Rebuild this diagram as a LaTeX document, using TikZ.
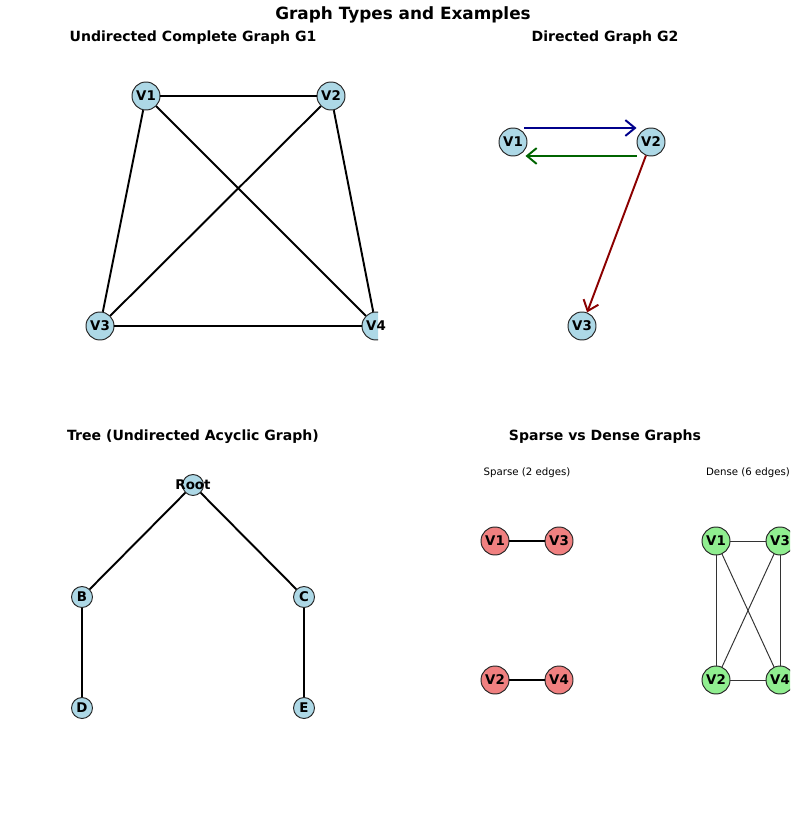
\documentclass[tikz,border=0pt]{standalone}
\usepackage{fontspec}
\setmainfont{DejaVu Sans}
\usetikzlibrary{arrows.meta}
\definecolor{lblue}{RGB}{173,216,230}
\definecolor{lcoral}{RGB}{240,128,128}
\definecolor{lgreen}{RGB}{144,238,144}
\definecolor{dblue}{RGB}{0,0,139}
\definecolor{dgreen}{RGB}{0,100,0}
\definecolor{dred}{RGB}{139,0,0}
\begin{document}
\begin{tikzpicture}[x=0.02cm,y=-0.02cm]

    \tikzset{vstyle/.style={draw=black!85,fill=lblue,shape=circle,minimum size=28*0.02cm,inner sep=0pt,font=\fontsize{7.6}{8}\selectfont\bfseries,line width=0.55pt}}
    \tikzset{tstyle/.style={vstyle,minimum size=21*0.02cm}}
    \tikzset{vlabel/.style={font=\fontsize{7.6}{8}\selectfont\bfseries,inner sep=0pt}}
    \tikzset{ttl/.style={font=\fontsize{8}{9}\selectfont\bfseries}}
    \tikzset{sub/.style={font=\fontsize{5.8}{7}\selectfont}}
    \useasboundingbox (0,0) rectangle (800,827);

    \node[font=\fontsize{9.6}{11}\selectfont\bfseries] (title) at (403,15) {Graph Types and Examples};
    \node[ttl] (t1) at (193,38) {Undirected Complete Graph G1};
    \node[ttl] (t2) at (605,38) {Directed Graph G2};
    \node[ttl] (t3) at (193,437) {Tree (Undirected Acyclic Graph)};
    \node[ttl] (t4) at (605,437) {Sparse vs Dense Graphs};

    % G1
    \begin{scope}
    \clip (10,50) rectangle (378,400);
    \node[vstyle] (a1) at (146,96) {V1};
    \node[vstyle] (a2) at (331,96) {V2};
    \node[vstyle] (a3) at (100,326) {V3};
    \node[vstyle] (a4) at (376,326) {};
    \begin{scope}[every path/.style={line width=1.1pt}]
        \draw (a1) -- (a2);
        \draw (a1) -- (a3);
        \draw (a1) -- (a4);
        \draw (a2) -- (a3);
        \draw (a2) -- (a4);
        \draw (a3) -- (a4);
    \end{scope}
    \end{scope}
    \node[vlabel] at (a4) {V4};

    % G2
    \node[vstyle] (b1) at (513,142) {V1};
    \node[vstyle] (b2) at (651,142) {V2};
    \node[vstyle] (b3) at (582,326) {V3};
    \begin{scope}[every path/.style={line width=1.1pt,-{Straight Barb[length=5.5pt,width=9pt]}}]
        \draw[dblue] ([xshift=-0.06cm,yshift=0.28cm]b1.east) -- ([yshift=0.28cm]b2.west);
        \draw[dgreen] ([yshift=-0.28cm]b2.west) -- ([xshift=-0.04cm,yshift=-0.28cm]b1.east);
        \draw[dred] (b2) -- (b3);
    \end{scope}

    % tree
    \node[tstyle] (root) at (193,485) {};
    \node[tstyle] (nb) at (82,597) {B};
    \node[tstyle] (nc) at (304,597) {C};
    \node[tstyle] (nd) at (82,708) {D};
    \node[tstyle] (ne) at (304,708) {E};
    \begin{scope}[every path/.style={line width=1.1pt}]
        \draw (root) -- (nb);
        \draw (root) -- (nc);
        \draw (nb) -- (nd);
        \draw (nc) -- (ne);
    \end{scope}
    \node[vlabel] at (root) {Root};

    % sparse
    \node[sub] (ls) at (527,473) {Sparse (2 edges)};
    \node[vstyle,fill=lcoral] (s1) at (495,541) {V1};
    \node[vstyle,fill=lcoral] (s3) at (559,541) {V3};
    \node[vstyle,fill=lcoral] (s2) at (495,680) {V2};
    \node[vstyle,fill=lcoral] (s4) at (559,680) {V4};
    \draw[line width=1.4pt] (s1) -- (s3);
    \draw[line width=1.4pt] (s2) -- (s4);

    % dense
    \node[sub] (ld) at (748,473) {Dense (6 edges)};
    \begin{scope}
    \clip (600,500) rectangle (790,720);
    \node[vstyle,fill=lgreen] (d1) at (716,541) {V1};
    \node[vstyle,fill=lgreen] (d3) at (780,541) {V3};
    \node[vstyle,fill=lgreen] (d2) at (716,680) {V2};
    \node[vstyle,fill=lgreen] (d4) at (780,680) {V4};
    \begin{scope}[every path/.style={line width=0.55pt,draw=black!80}]
        \draw (d1) -- (d3);
        \draw (d1) -- (d2);
        \draw (d1) -- (d4);
        \draw (d3) -- (d2);
        \draw (d3) -- (d4);
        \draw (d2) -- (d4);
    \end{scope}
    \end{scope}
\end{tikzpicture}
\end{document}
